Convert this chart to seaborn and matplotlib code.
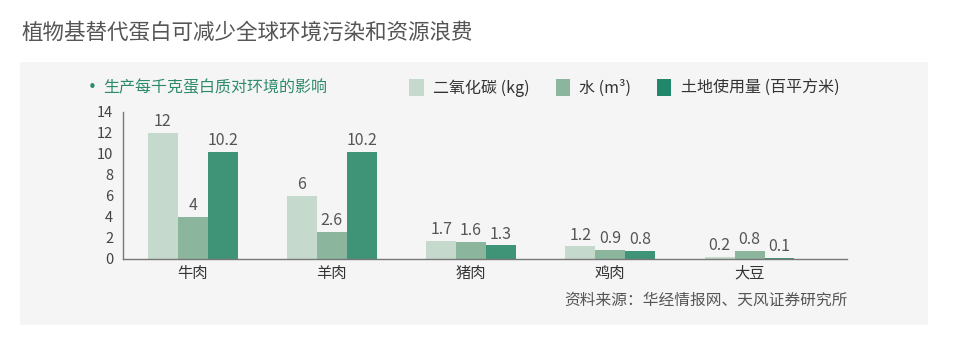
import matplotlib
matplotlib.use("Agg")
import matplotlib.pyplot as plt
from matplotlib.patches import Rectangle, Patch
import seaborn as sns
import pandas as pd

# data
foods = ["牛肉", "羊肉", "猪肉", "鸡肉", "大豆"]
series = ["二氧化碳 (kg)", "水 (m³)", "土地使用量 (百平方米)"]
co2 = [12, 6, 1.7, 1.2, 0.2]
water = [4, 2.6, 1.6, 0.9, 0.8]
land = [10.2, 10.2, 1.3, 0.8, 0.1]

bar_colors = ["#c6d9cd", "#8cb59e", "#3f9477"]
legend_colors = ["#c6d9cd", "#8cb59e", "#21876a"]

rows = []
for vals, s in zip([co2, water, land], series):
    for f, v in zip(foods, vals):
        rows.append({"food": f, "series": s, "value": v})
df = pd.DataFrame(rows)

sns.set_style("white")
plt.rcParams["font.family"] = ["Noto Sans CJK SC", "DejaVu Sans"]

fig = plt.figure(figsize=(9.55, 3.54), dpi=100)
fig.patch.set_facecolor("white")
# grey panel
fig.patches.append(Rectangle((20 / 955, 1 - 325 / 354), 908 / 955, 263 / 354,
                             transform=fig.transFigure, facecolor="#f5f5f5",
                             edgecolor="none", zorder=-5))

ax = fig.add_axes([123 / 955, 1 - 259 / 354, (847 - 123) / 955, (259 - 111.7) / 354])
ax.set_facecolor("none")
ax.set_zorder(2)

sns.barplot(data=df, x="food", y="value", hue="series", palette=bar_colors,
            width=0.645, ax=ax, legend=False, saturation=1, edgecolor="none")

for cont in ax.containers:
    ax.bar_label(cont, labels=["%g" % b.get_height() for b in cont], padding=2,
                 fontsize=11.5, color="#555555", fontweight="light")

ax.set_ylim(0, 14)
ax.set_xlim(-0.5, 4.7)
ax.set_yticks(range(0, 15, 2))
ax.set_xlabel("")
ax.set_ylabel("")
for side in ["top", "right"]:
    ax.spines[side].set_visible(False)
for side in ["left", "bottom"]:
    ax.spines[side].set_color("#777777")
    ax.spines[side].set_linewidth(1.0)
ax.tick_params(axis="y", direction="out", length=5, width=1, color="#777777",
               labelsize=10.5, labelcolor="#444444", pad=2)
ax.tick_params(axis="x", length=0, labelsize=11, labelcolor="#333333", pad=4)

# titles and notes
fig.text(22 / 955, 1 - 33 / 354, "植物基替代蛋白可减少全球环境污染和资源浪费",
         fontsize=15.5, color="#555555", va="center", ha="left", fontweight="light")
fig.text(92 / 955, 1 - 88 / 354, "•", fontsize=11, color="#2e8b6a",
         va="center", ha="center", family="DejaVu Sans")
fig.text(103 / 955, 1 - 88 / 354, "生产每千克蛋白质对环境的影响",
         fontsize=11.5, color="#2e8b6a", va="center", ha="left")
fig.text(848 / 955, 1 - 300 / 354, "资料来源：华经情报网、天风证券研究所",
         fontsize=11.3, color="#555555", va="center", ha="right")

handles = [Patch(facecolor=c, edgecolor="none") for c in legend_colors]
fig.legend(handles, series, loc="center right",
           bbox_to_anchor=(854 / 955, 1 - 88 / 354), ncol=3, frameon=False,
           handlelength=0.9, handleheight=1.3, handletextpad=0.6,
           columnspacing=1.6, fontsize=11.5, labelcolor="#333333")

fig.savefig("out.png", dpi=100)
